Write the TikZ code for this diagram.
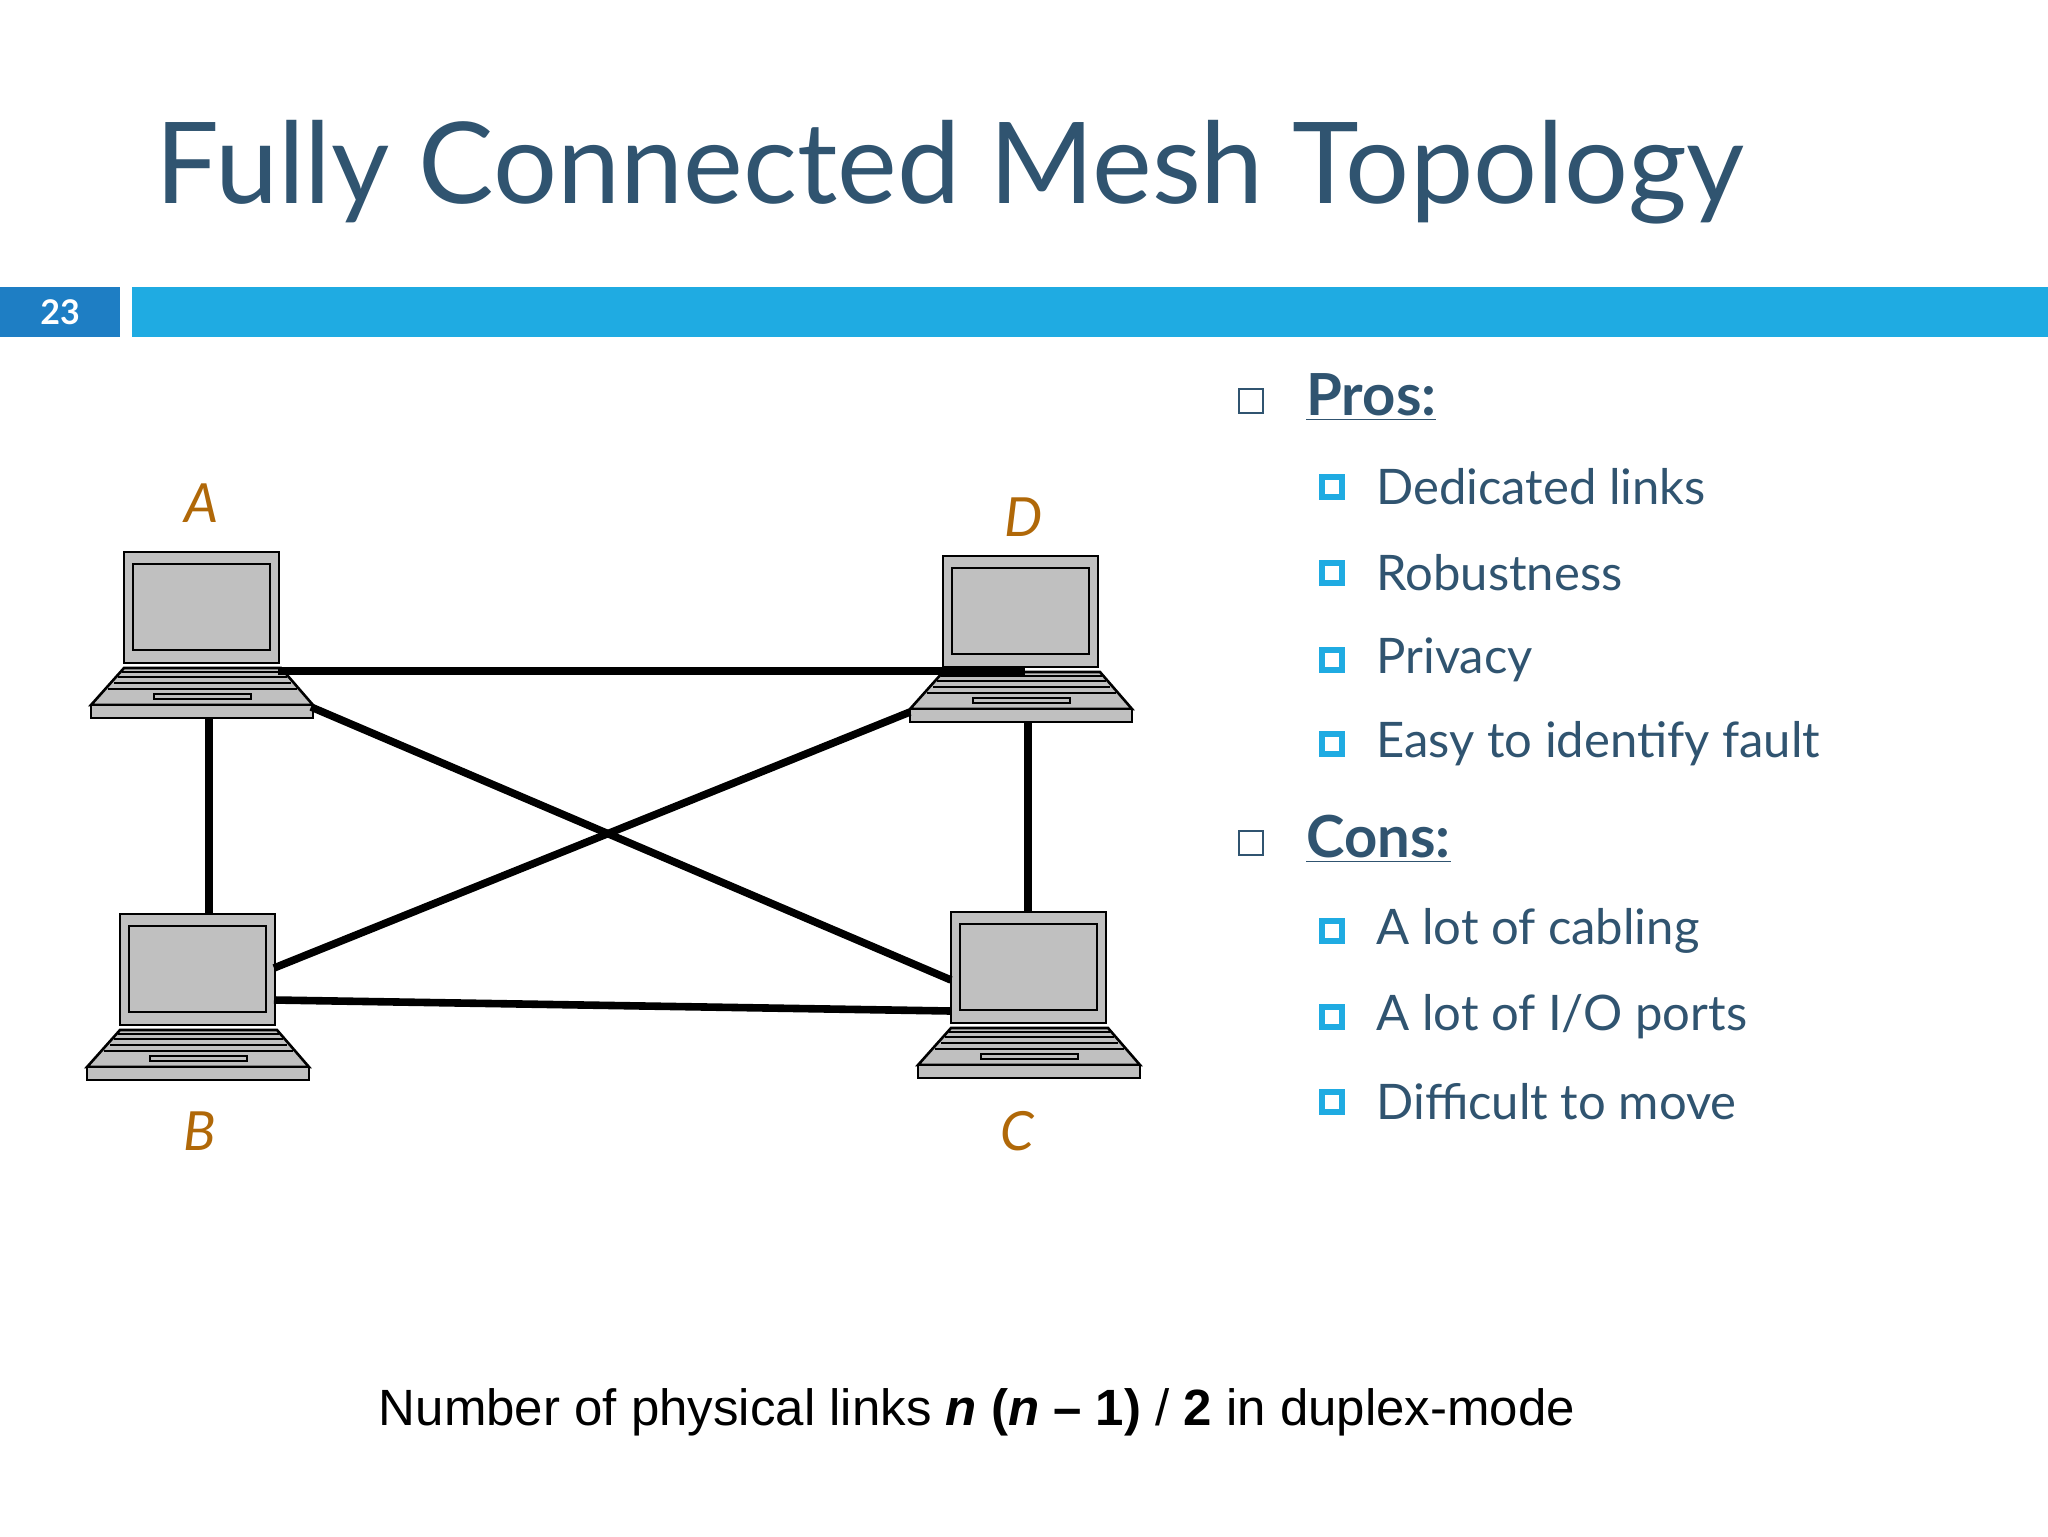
\documentclass[tikz,border=0pt]{standalone}
\usepackage{fontspec}
\setmainfont{Lato}
\newfontfamily\arialf{Liberation Sans}
\begin{document}
\begin{tikzpicture}[x=0.5pt,y=-0.5pt,
  lap/.style={draw=black,fill=lapgray,line width=1.3pt},
  link/.style={line width=3.8pt,draw=black},
  lbl/.style={text=labc,font=\fontsize{27}{30}\selectfont\itshape},
  txt/.style={text=titc,anchor=west,inner sep=0pt},
  pics/laptop/.style={code={
    \draw[lap] (0,0) rectangle (155,111);
    \draw[lap] (9,12) rectangle (146,98);
    \draw[lap] (0,116) -- (157,116) -- (189,153) -- (-33,153) -- cycle;
    \draw[lap] (-33,153) rectangle (189,166);
    \draw[line width=1.3pt] (-2,120) -- (159,120) (-6,125) -- (163,125) (-10,131) -- (167,131) (-16,137) -- (173,137);
    \draw[lap] (30,142) rectangle (127,147);
  }}]
\definecolor{lapgray}{RGB}{192,192,192}
\definecolor{labc}{RGB}{176,104,8}
\definecolor{titc}{RGB}{48,84,112}
\definecolor{barc}{RGB}{31,171,226}
\definecolor{boxc}{RGB}{30,126,196}
\useasboundingbox (0,0) rectangle (2048,1536);
\fill[white] (0,0) rectangle (2048,1536);
% header
\node[txt,font=\fontsize{56.5}{62}\selectfont] (title) at (155,172) {Fully Connected Mesh Topology};
\fill[boxc] (0,287) rectangle (120,337);
\fill[barc] (132,287) rectangle (2048,337);
\node[text=white,font=\bfseries\fontsize{17}{20}\selectfont] (num) at (60,312) {23};
% laptops
\pic at (124,552) {laptop};
\pic at (943,556) {laptop};
\pic at (120,914) {laptop};
\pic at (951,912) {laptop};
\coordinate (A1) at (278,671); \coordinate (D1) at (1025,671);
\coordinate (A2) at (209,718); \coordinate (B2) at (209,914);
\coordinate (A3) at (311,707); \coordinate (C3) at (951,980);
\coordinate (B4) at (274,968); \coordinate (D4) at (910,712);
\coordinate (B5) at (274,1000); \coordinate (C5) at (951,1011);
\coordinate (D6) at (1028,722); \coordinate (C6) at (1028,912);
\draw[link] (A1) -- (D1);
\draw[link] (A2) -- (B2);
\draw[link] (A3) -- (C3);
\draw[link] (B4) -- (D4);
\draw[link] (B5) -- (C5);
\draw[link] (D6) -- (C6);
\node[lbl] (la) at (202,503) {A};
\node[lbl] (ld) at (1024,517) {D};
\node[lbl] (lb) at (200,1131) {B};
\node[lbl] (lc) at (1017,1131) {C};
% list
\tikzset{ob/.style={draw=titc,line width=1.2pt,minimum size=12pt,inner sep=0pt},
  fb/.style={draw=barc,line width=3.2pt,fill=white,minimum size=10pt,inner sep=0pt},
  head/.style={txt,font=\bfseries\fontsize{29}{32}\selectfont},
  item/.style={txt,font=\fontsize{24.5}{28}\selectfont}}
\node[ob] (b1) at (1251,401) {};
\node[head] (pros) at (1306,397) {\underline{Pros:}};
\node[ob] (b2) at (1251,843) {};
\node[head] (cons) at (1306,839) {\underline{Cons:}};
\foreach \y/\t [count=\i] in {487/{Dedicated links},573/{Robustness},660/{Privacy},744/{Easy to identify fault},931/{A lot of cabling},1017/{A lot of I/O ports},1102/{Difficult to move}}{
  \node[fb] (s\i) at (1332,\y) {};
  \node[item] (t\i) at (1376,\y) {\t};
}
\node[font=\arialf\fontsize{25.5}{30}\selectfont] (foot) at (977,1412) {Number of physical links \textbf{\textit{n}} \textbf{(\textit{n} – 1)} / \textbf{2} in duplex-mode};
\end{tikzpicture}
\end{document}
